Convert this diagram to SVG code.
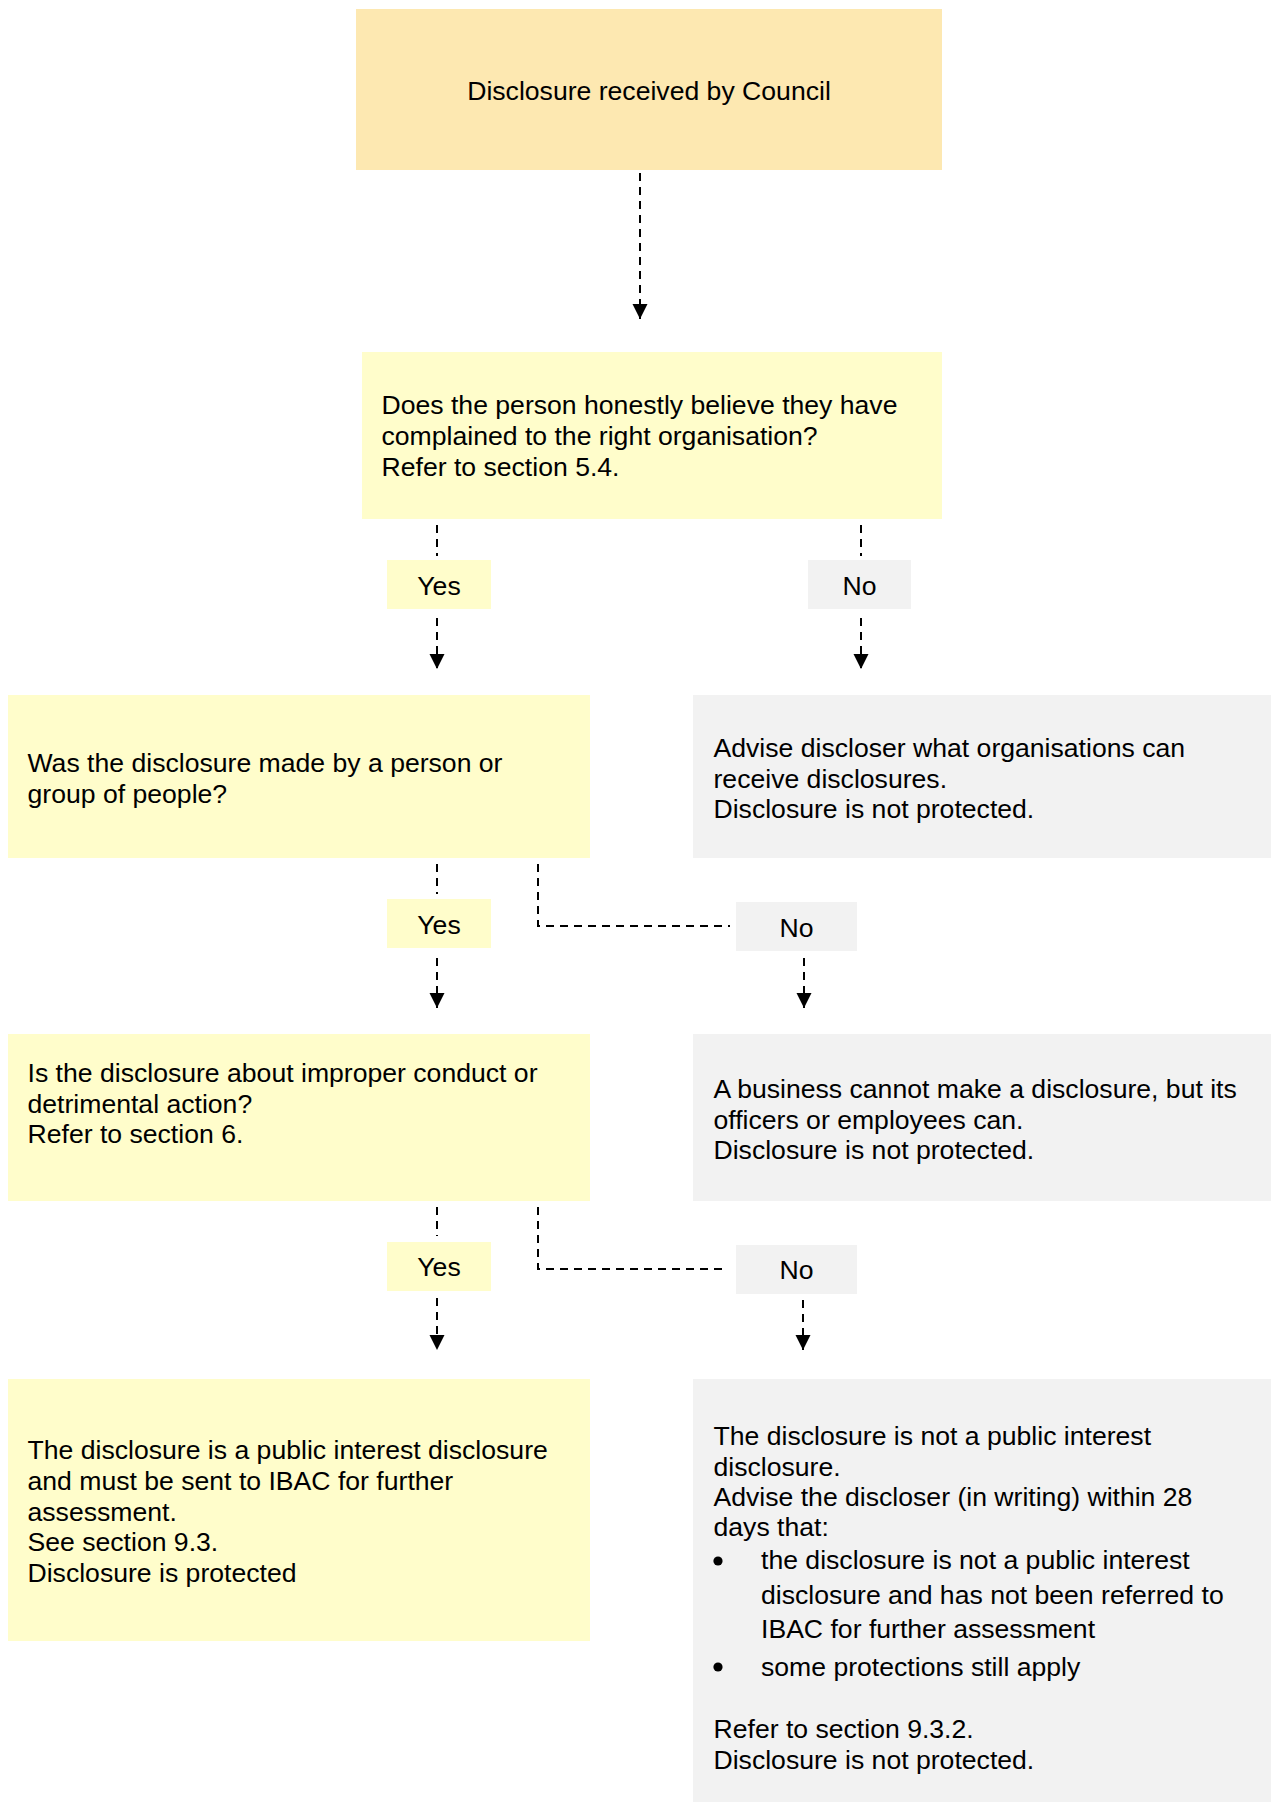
<svg xmlns="http://www.w3.org/2000/svg" width="1271" height="1802" viewBox="0 0 1271 1802">
<defs>
<style>
.t{font-family:"Liberation Sans",Arial,sans-serif;font-size:26.6px;fill:#000}
.c{text-anchor:middle}
.or{fill:#FDE8B1}
.ye{fill:#FFFDCB}
.gr{fill:#F2F2F2}
.ln{fill:none;stroke:#000;stroke-width:2;stroke-dasharray:8 6}
.ar{marker-end:url(#ah)}
</style>
<marker id="ah" markerUnits="userSpaceOnUse" markerWidth="16" markerHeight="16" refX="15" refY="7.5" orient="auto">
<path d="M0,0 L15,7.5 L0,15 Z" fill="#000"/>
</marker>
</defs>
<rect width="1271" height="1802" fill="#fff"/>
<g id="connectors">
<path class="ln ar" d="M640,173 V319"/>
<path class="ln" d="M437,525 V556"/>
<path class="ln" d="M861,525 V556"/>
<path class="ln ar" d="M437,618 V669"/>
<path class="ln ar" d="M861,618 V669"/>
<path class="ln" d="M437,864 V894"/>
<path class="ln ar" d="M437,958 V1008"/>
<path class="ln" d="M538,864 V926 H730"/>
<path class="ln ar" d="M804,958 V1008"/>
<path class="ln" d="M437,1207 V1236"/>
<path class="ln ar" d="M437,1298 V1350"/>
<path class="ln" d="M538,1207 V1269 H728"/>
<path class="ln ar" d="M803,1300 V1350"/>
</g>
<g id="start">
<rect class="or" x="356" y="9" width="586" height="161"/>
<text class="t c" x="649" y="99.5">Disclosure received by Council</text>
</g>
<g id="q1">
<rect class="ye" x="362" y="352" width="580" height="167"/>
<text class="t" x="381.5" y="414">Does the person honestly believe they have</text>
<text class="t" x="381.5" y="445">complained to the right organisation?</text>
<text class="t" x="381.5" y="476">Refer to section 5.4.</text>
</g>
<g id="yes1">
<rect class="ye" x="387" y="560" width="104" height="49"/>
<text class="t c" x="439" y="594.5">Yes</text>
</g>
<g id="no1">
<rect class="gr" x="808" y="560" width="103" height="49"/>
<text class="t c" x="859.5" y="594.5">No</text>
</g>
<g id="q2">
<rect class="ye" x="8" y="695" width="582" height="163"/>
<text class="t" x="27.5" y="771.5">Was the disclosure made by a person or</text>
<text class="t" x="27.5" y="802.5">group of people?</text>
</g>
<g id="a">
<rect class="gr" x="693" y="695" width="578" height="163"/>
<text class="t" x="713.5" y="756.5">Advise discloser what organisations can</text>
<text class="t" x="713.5" y="787.5">receive disclosures.</text>
<text class="t" x="713.5" y="818">Disclosure is not protected.</text>
</g>
<g id="yes2">
<rect class="ye" x="387" y="899" width="104" height="49"/>
<text class="t c" x="439" y="933.5">Yes</text>
</g>
<g id="no2">
<rect class="gr" x="736" y="902" width="121" height="49"/>
<text class="t c" x="796.5" y="936.5">No</text>
</g>
<g id="q3">
<rect class="ye" x="8" y="1034" width="582" height="167"/>
<text class="t" x="27.5" y="1081.5">Is the disclosure about improper conduct or</text>
<text class="t" x="27.5" y="1112.5">detrimental action?</text>
<text class="t" x="27.5" y="1143">Refer to section 6.</text>
</g>
<g id="b">
<rect class="gr" x="693" y="1034" width="578" height="167"/>
<text class="t" x="713.5" y="1097.5">A business cannot make a disclosure, but its</text>
<text class="t" x="713.5" y="1128.5">officers or employees can.</text>
<text class="t" x="713.5" y="1159">Disclosure is not protected.</text>
</g>
<g id="yes3">
<rect class="ye" x="387" y="1242" width="104" height="49"/>
<text class="t c" x="439" y="1276">Yes</text>
</g>
<g id="no3">
<rect class="gr" x="736" y="1245" width="121" height="49"/>
<text class="t c" x="796.5" y="1279">No</text>
</g>
<g id="protected">
<rect class="ye" x="8" y="1379" width="582" height="262"/>
<text class="t" x="27.5" y="1458.5">The disclosure is a public interest disclosure</text>
<text class="t" x="27.5" y="1489.5">and must be sent to IBAC for further</text>
<text class="t" x="27.5" y="1520.5">assessment.</text>
<text class="t" x="27.5" y="1551">See section 9.3.</text>
<text class="t" x="27.5" y="1582">Disclosure is protected</text>
</g>
<g id="notprotected">
<rect class="gr" x="693" y="1379" width="578" height="423"/>
<text class="t" x="713.5" y="1444.5">The disclosure is not a public interest</text>
<text class="t" x="713.5" y="1476">disclosure.</text>
<text class="t" x="713.5" y="1506">Advise the discloser (in writing) within 28</text>
<text class="t" x="713.5" y="1536">days that:</text>
<circle cx="718" cy="1561" r="4.6" fill="#000"/>
<text class="t" x="761" y="1569">the disclosure is not a public interest</text>
<text class="t" x="761" y="1604">disclosure and has not been referred to</text>
<text class="t" x="761" y="1638">IBAC for further assessment</text>
<circle cx="718" cy="1667" r="4.6" fill="#000"/>
<text class="t" x="761" y="1676">some protections still apply</text>
<text class="t" x="713.5" y="1737.5">Refer to section 9.3.2.</text>
<text class="t" x="713.5" y="1768.5">Disclosure is not protected.</text>
</g>
</svg>
